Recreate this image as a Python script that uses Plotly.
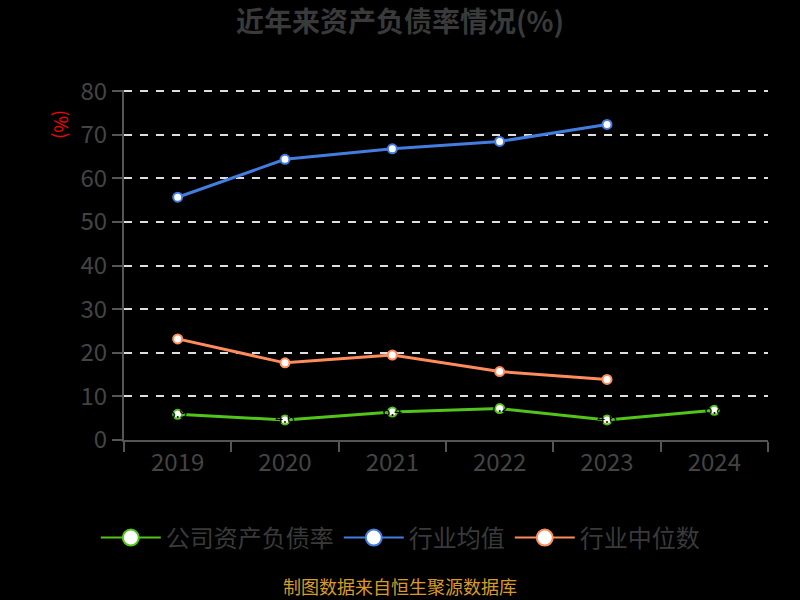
import plotly.graph_objects as go

# chart data
years = ["2019", "2020", "2021", "2022", "2023", "2024"]
company_ratio = [5.9, 4.6, 6.4, 7.2, 4.6, 6.8]
industry_mean = [55.7, 64.4, 66.8, 68.5, 72.4]
industry_median = [23.2, 17.7, 19.5, 15.7, 13.9]
series_names = ["公司资产负债率", "行业均值", "行业中位数"]

green = "#52c41a"
blue = "#447de0"
orange = "#ff8c5a"
font_cjk = "Noto Sans CJK SC"

fig = go.Figure()

# industry mean (blue)
fig.add_trace(go.Scatter(
    x=years[:len(industry_mean)], y=industry_mean, name=series_names[1],
    mode="lines+markers", showlegend=False,
    line=dict(color=blue, width=3),
    marker=dict(size=9, color="white", line=dict(color=blue, width=2)),
))
# industry median (orange)
fig.add_trace(go.Scatter(
    x=years[:len(industry_median)], y=industry_median, name=series_names[2],
    mode="lines+markers", showlegend=False,
    line=dict(color=orange, width=3),
    marker=dict(size=9, color="white", line=dict(color=orange, width=2)),
))
# company ratio (green), labels drawn in black
fig.add_trace(go.Scatter(
    x=years, y=company_ratio, name=series_names[0],
    mode="lines+markers+text", showlegend=False,
    text=[f"{v:.1f}" for v in company_ratio],
    textposition="middle center",
    textfont=dict(color="black", size=14, family=font_cjk),
    line=dict(color=green, width=3),
    marker=dict(size=9, color="white", line=dict(color=green, width=2)),
))

# legend entries with bigger symbols
for name, col in zip(series_names, [green, blue, orange]):
    fig.add_trace(go.Scatter(
        x=[None], y=[None], name=name, mode="lines+markers",
        line=dict(color=col, width=2),
        marker=dict(size=30, color="white", line=dict(color=col, width=2)),
    ))

# title
fig.update_layout(
    title=dict(text="<b>近年来资产负债率情况(%)</b>", x=0.5, xanchor="center",
               y=0.963, yanchor="middle",
               font=dict(size=28, color="#3a3a3a", family=font_cjk)),
)

# axis name and footer
fig.add_annotation(text="(%)", textangle=90, xref="paper", yref="paper",
                   x=-0.0963, y=0.90, xanchor="center", yanchor="middle", showarrow=False,
                   font=dict(size=18, color="red", family=font_cjk))
fig.add_annotation(text="制图数据来自恒生聚源数据库", xref="paper", yref="paper",
                   x=0.429, y=-0.418, xanchor="center", yanchor="middle", showarrow=False,
                   font=dict(size=18, color="#d89b26", family=font_cjk))

fig.update_xaxes(
    type="category", range=[-0.5, 5.5],
    showline=True, linecolor="#555", linewidth=2,
    ticks="outside", tickson="boundaries", ticklen=10, tickcolor="#555", tickwidth=2,
    showgrid=False,
    tickfont=dict(size=24, color="#444", family=font_cjk),
)
fig.update_yaxes(
    range=[0, 80.3], dtick=10,
    showline=True, linecolor="#555", linewidth=2,
    ticks="outside", ticklen=10, tickcolor="#555", tickwidth=2,
    showgrid=True, gridcolor="#dddddd", griddash="8px,8px", gridwidth=2,
    zeroline=False,
    tickfont=dict(size=24, color="#444", family=font_cjk),
)

fig.update_layout(
    width=800, height=600,
    paper_bgcolor="black", plot_bgcolor="black",
    margin=dict(l=124, r=32, t=90, b=160),
    showlegend=True,
    legend=dict(orientation="h", x=0.429, xanchor="center", y=-0.28, yanchor="middle",
                font=dict(size=24, color="#3a3a3a", family=font_cjk),
                itemwidth=60, bgcolor="rgba(0,0,0,0)"),
)

# drop the page margin so the 800x600 figure fills the window
fig.write_html("out.html", config={"displayModeBar": False},
               post_script="document.body.style.margin='0';")
